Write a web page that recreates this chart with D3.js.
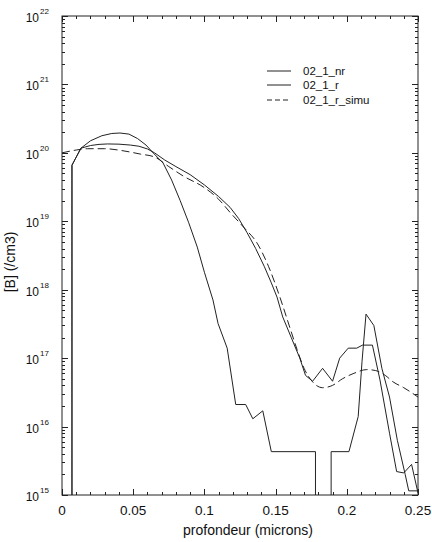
<!DOCTYPE html>
<html><head><meta charset="utf-8">
<script src="https://cdn.jsdelivr.net/npm/d3@7"></script>
<style>body{margin:0;background:#fff}svg{display:block}text{font-family:"Liberation Sans",Arial,sans-serif;fill:#111}</style>
</head><body>
<svg id="c" width="432" height="542"></svg>
<script>
// ---- data ----
const seriesNames = ["02_1_nr", "02_1_r", "02_1_r_simu"];
const xTickValues = [0, 0.05, 0.1, 0.15, 0.2, 0.25];
const xTickLabels = ["0", "0.05", "0.1", "0.15", "0.2", "0.25"];
const yExponents = [15, 16, 17, 18, 19, 20, 21, 22];

const nrX = [0.007,0.007,0.0133,0.020,0.028,0.035,0.0407,0.047,0.053,0.059,0.064,0.071,0.077,0.083,0.089,0.095,0.100,0.106,0.1096,0.116,0.122,0.129,0.134,0.141,0.147,0.178,0.178,0.189,0.189,0.2015,0.208,0.2107,0.2135,0.219,0.2247,0.230,0.2355,0.241,0.2435,0.25];
const nrY = [1e13,6.6e19,1.17e20,1.5e20,1.78e20,1.92e20,1.95e20,1.88e20,1.62e20,1.3e20,1.0e20,7.1e19,4.0e19,2.0e19,9.5e18,4.2e18,1.8e18,7.1e17,3.2e17,1.4e17,2.1e16,2.1e16,1.3e16,1.7e16,4.3e15,4.3e15,1e13,1e13,4.3e15,4.3e15,1.4e16,9e16,4.4e17,3.0e17,7e16,2.7e16,6.3e15,2.0e15,1.15e15,1.15e15];

const rX = [0.007,0.007,0.0133,0.020,0.026,0.032,0.040,0.048,0.054,0.060,0.065,0.072,0.080,0.090,0.100,0.110,0.118,0.124,0.130,0.136,0.142,0.147,0.151,0.155,0.161,0.167,0.171,0.176,0.183,0.190,0.195,0.201,0.207,0.211,0.218,0.2233,0.230,0.235,0.240,0.2455,0.25];
const rY = [1e13,6.6e19,1.17e20,1.28e20,1.33e20,1.35e20,1.34e20,1.3e20,1.25e20,1.14e20,1.0e20,7.9e19,6.3e19,4.8e19,3.4e19,2.3e19,1.6e19,1.1e19,6.8e18,4.0e18,2.2e18,1.26e18,7.8e17,4.0e17,2.0e17,1.0e17,5.6e16,4.6e16,7.1e16,4.6e16,1.0e17,1.4e17,1.4e17,1.55e17,1.55e17,4.8e16,8e15,2.2e15,2.1e15,2.8e15,1.07e15];

const simuX = [0,0.01,0.018,0.03,0.042,0.055,0.065,0.075,0.085,0.100,0.110,0.118,0.128,0.137,0.145,0.153,0.160,0.165,0.170,0.176,0.183,0.190,0.197,0.205,0.214,0.220,0.227,0.2325,0.240,0.25];
const simuY = [1.0e20,1.1e20,1.15e20,1.15e20,1.08e20,9.6e19,8.7e19,6.3e19,4.6e19,3.1e19,2.1e19,1.35e19,8e18,4.8e18,2.2e18,7.8e17,2.8e17,1.35e17,7.1e16,4.5e16,3.7e16,4.0e16,5.0e16,6.0e16,6.8e16,6.6e16,5.6e16,4.5e16,3.7e16,2.7e16];

// ---- layout ----
const L = 62, R = 418, T = 16, B = 495;
const svg = d3.select("#c");
const x = d3.scaleLinear().domain([0, 0.25]).range([L, R]);
const y = d3.scaleLog().domain([1e15, 1e22]).range([B, T]);
const ink = "#222";

svg.append("defs").append("clipPath").attr("id", "clip")
  .append("rect").attr("x", L).attr("y", T).attr("width", R - L).attr("height", B - T);

// frame
svg.append("rect").attr("x", L).attr("y", T).attr("width", R - L).attr("height", B - T)
  .attr("fill", "none").attr("stroke", ink).attr("stroke-width", 1);

// x ticks (bottom & top, inward)
const xMinor = d3.range(0, 26).map(i => i / 100);
xMinor.forEach(v => {
  const major = Math.abs(v * 20 - Math.round(v * 20)) < 1e-9;
  const len = major ? 6 : 3;
  const px = Math.round(x(v)) + 0.5;
  svg.append("line").attr("x1", px).attr("x2", px).attr("y1", B).attr("y2", B - len).attr("stroke", ink);
  svg.append("line").attr("x1", px).attr("x2", px).attr("y1", T).attr("y2", T + len).attr("stroke", ink);
});
// y ticks (left & right, inward)
y.ticks(70).forEach(v => {
  const lg = Math.log10(v);
  const major = Math.abs(lg - Math.round(lg)) < 1e-9;
  const len = major ? 6 : 3;
  const py = Math.round(y(v)) + 0.5;
  svg.append("line").attr("x1", L).attr("x2", L + len).attr("y1", py).attr("y2", py).attr("stroke", ink);
  svg.append("line").attr("x1", R).attr("x2", R - len).attr("y1", py).attr("y2", py).attr("stroke", ink);
});

// x tick labels
xTickValues.forEach((v, i) => {
  svg.append("text").attr("x", x(v)).attr("y", B + 20).attr("text-anchor", "middle")
    .attr("font-size", 13.5).text(xTickLabels[i]);
});
// y tick labels
yExponents.forEach(e => {
  const py = y(Math.pow(10, e));
  svg.append("text").attr("x", 39).attr("y", py + 6).attr("text-anchor", "end").attr("font-size", 12).text("10");
  svg.append("text").attr("x", 40).attr("y", py - 2).attr("text-anchor", "start").attr("font-size", 8).text(String(e));
});

// axis titles
svg.append("text").attr("x", (L + R) / 2 + 8).attr("y", 535).attr("text-anchor", "middle").attr("font-size", 14)
  .text("profondeur (microns)");
svg.append("text").attr("transform", "translate(15," + 262 + ") rotate(-90)").attr("text-anchor", "middle")
  .attr("font-size", 14).text("[B] (/cm3)");

// curves
const g = svg.append("g").attr("clip-path", "url(#clip)");
const lin = d3.line().x(d => x(d[0])).y(d => y(d[1]));
const smooth = d3.line().x(d => x(d[0])).y(d => y(d[1])).curve(d3.curveMonotoneX);
const zip = (a, b) => a.map((v, i) => [v, b[i]]);
g.append("path").attr("d", lin(zip(nrX, nrY))).attr("fill", "none").attr("stroke", ink).attr("stroke-width", 1);
g.append("path").attr("d", lin(zip(rX, rY))).attr("fill", "none").attr("stroke", ink).attr("stroke-width", 1);
g.append("path").attr("d", smooth(zip(simuX, simuY))).attr("fill", "none").attr("stroke", ink).attr("stroke-width", 1)
  .attr("stroke-dasharray", "8,4");

// legend
const legY = [71, 85, 100];
seriesNames.forEach((n, i) => {
  svg.append("line").attr("x1", 267).attr("x2", 291).attr("y1", legY[i]).attr("y2", legY[i])
    .attr("stroke", ink).attr("stroke-dasharray", i === 2 ? "5,3" : null);
  svg.append("text").attr("x", 303).attr("y", legY[i] + 4).attr("font-size", 11.5).text(n);
});
</script>
</body></html>
